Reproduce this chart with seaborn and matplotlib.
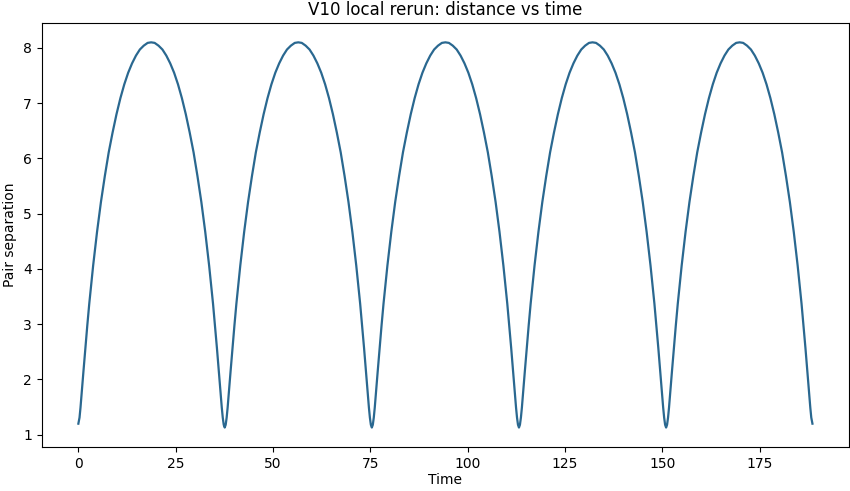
"""
V10 local rerun: pair separation vs time
"""

import matplotlib
matplotlib.use("Agg")
import matplotlib.pyplot as plt
import seaborn as sns
import pandas as pd

# Values (five orbits)
time = [
    0.0, 0.3, 0.55, 0.8, 1.3, 1.8, 2.3, 2.8, 3.8, 4.8, 5.8, 6.8, 7.8, 8.8, 9.8,
    10.8, 11.8, 12.8, 13.8, 14.8, 15.8, 16.8, 17.8, 18.7, 19.6, 20.6, 21.6,
    22.6, 23.6, 24.6, 25.6, 26.6, 27.6, 28.6, 29.6, 30.6, 31.6, 32.6, 33.6,
    34.6, 35.1, 35.6, 36.1, 36.6, 36.85, 37.1, 37.35,
    37.6, 37.85, 38.1, 38.35, 38.6, 39.1, 39.6, 40.1, 40.6, 41.6, 42.6, 43.6,
    44.6, 45.6, 46.6, 47.6, 48.6, 49.6, 50.6, 51.6, 52.6, 53.6, 54.6, 55.6,
    56.5, 57.4, 58.4, 59.4, 60.4, 61.4, 62.4, 63.4, 64.4, 65.4, 66.4, 67.4,
    68.4, 69.4, 70.4, 71.4, 72.4, 72.9, 73.4, 73.9, 74.4, 74.65, 74.9, 75.15,
    75.4, 75.65, 75.9, 76.15, 76.4, 76.9, 77.4, 77.9, 78.4, 79.4, 80.4, 81.4,
    82.4, 83.4, 84.4, 85.4, 86.4, 87.4, 88.4, 89.4, 90.4, 91.4, 92.4, 93.4,
    94.3, 95.2, 96.2, 97.2, 98.2, 99.2, 100.2, 101.2, 102.2, 103.2, 104.2,
    105.2, 106.2, 107.2, 108.2, 109.2, 110.2, 110.7, 111.2, 111.7, 112.2,
    112.45, 112.7, 112.95,
    113.2, 113.45, 113.7, 113.95, 114.2, 114.7, 115.2, 115.7, 116.2, 117.2,
    118.2, 119.2, 120.2, 121.2, 122.2, 123.2, 124.2, 125.2, 126.2, 127.2,
    128.2, 129.2, 130.2, 131.2, 132.1, 133.0, 134.0, 135.0, 136.0, 137.0,
    138.0, 139.0, 140.0, 141.0, 142.0, 143.0, 144.0, 145.0, 146.0, 147.0,
    148.0, 148.5, 149.0, 149.5, 150.0, 150.25, 150.5, 150.75,
    151.0, 151.25, 151.5, 151.75, 152.0, 152.5, 153.0, 153.5, 154.0, 155.0,
    156.0, 157.0, 158.0, 159.0, 160.0, 161.0, 162.0, 163.0, 164.0, 165.0,
    166.0, 167.0, 168.0, 169.0, 169.9, 170.8, 171.8, 172.8, 173.8, 174.8,
    175.8, 176.8, 177.8, 178.8, 179.8, 180.8, 181.8, 182.8, 183.8, 184.8,
    185.8, 186.3, 186.8, 187.3, 187.8, 188.05, 188.3, 188.6,
]

separation = [
    1.20, 1.31, 1.49, 1.70, 2.14, 2.57, 2.98, 3.37, 4.06, 4.67, 5.21, 5.68,
    6.11, 6.47, 6.80, 7.09, 7.34, 7.55, 7.72, 7.86, 7.97, 8.04, 8.09, 8.10,
    8.09, 8.04, 7.97, 7.86, 7.72, 7.55, 7.34, 7.09, 6.80, 6.47, 6.11, 5.68,
    5.21, 4.67, 4.06, 3.37, 2.98, 2.57, 2.14, 1.70, 1.49, 1.31, 1.18,
    1.13, 1.18, 1.31, 1.49, 1.70, 2.14, 2.57, 2.98, 3.37, 4.06, 4.67, 5.21,
    5.68, 6.11, 6.47, 6.80, 7.09, 7.34, 7.55, 7.72, 7.86, 7.97, 8.04, 8.09,
    8.10, 8.09, 8.04, 7.97, 7.86, 7.72, 7.55, 7.34, 7.09, 6.80, 6.47, 6.11,
    5.68, 5.21, 4.67, 4.06, 3.37, 2.98, 2.57, 2.14, 1.70, 1.49, 1.31, 1.18,
    1.13, 1.18, 1.31, 1.49, 1.70, 2.14, 2.57, 2.98, 3.37, 4.06, 4.67, 5.21,
    5.68, 6.11, 6.47, 6.80, 7.09, 7.34, 7.55, 7.72, 7.86, 7.97, 8.04, 8.09,
    8.10, 8.09, 8.04, 7.97, 7.86, 7.72, 7.55, 7.34, 7.09, 6.80, 6.47, 6.11,
    5.68, 5.21, 4.67, 4.06, 3.37, 2.98, 2.57, 2.14, 1.70, 1.49, 1.31, 1.18,
    1.13, 1.18, 1.31, 1.49, 1.70, 2.14, 2.57, 2.98, 3.37, 4.06, 4.67, 5.21,
    5.68, 6.11, 6.47, 6.80, 7.09, 7.34, 7.55, 7.72, 7.86, 7.97, 8.04, 8.09,
    8.10, 8.09, 8.04, 7.97, 7.86, 7.72, 7.55, 7.34, 7.09, 6.80, 6.47, 6.11,
    5.68, 5.21, 4.67, 4.06, 3.37, 2.98, 2.57, 2.14, 1.70, 1.49, 1.31, 1.18,
    1.13, 1.18, 1.31, 1.49, 1.70, 2.14, 2.57, 2.98, 3.37, 4.06, 4.67, 5.21,
    5.68, 6.11, 6.47, 6.80, 7.09, 7.34, 7.55, 7.72, 7.86, 7.97, 8.04, 8.09,
    8.10, 8.09, 8.04, 7.97, 7.86, 7.72, 7.55, 7.34, 7.09, 6.80, 6.47, 6.11,
    5.68, 5.21, 4.67, 4.06, 3.37, 2.98, 2.57, 2.14, 1.70, 1.49, 1.31, 1.20,
]

xticks = [0, 25, 50, 75, 100, 125, 150, 175]
yticks = [1, 2, 3, 4, 5, 6, 7, 8]


def main():
    df = pd.DataFrame({"Time": time, "Pair separation": separation})

    fig, ax = plt.subplots(figsize=(8.5, 4.91), dpi=100)
    fig.subplots_adjust(left=0.049, right=0.999, top=0.953, bottom=0.090)

    sns.lineplot(data=df, x="Time", y="Pair separation", ax=ax,
                 color="#2a6890", linewidth=1.6, sort=False)

    ax.set_xticks(xticks)
    ax.set_yticks(yticks)
    ax.set_title("V10 local rerun: distance vs time", fontsize=12)
    ax.set_xlabel("Time", labelpad=2)
    ax.set_ylabel("Pair separation", labelpad=4)

    fig.savefig("out.png", dpi=100)
    plt.close(fig)


if __name__ == "__main__":
    main()
